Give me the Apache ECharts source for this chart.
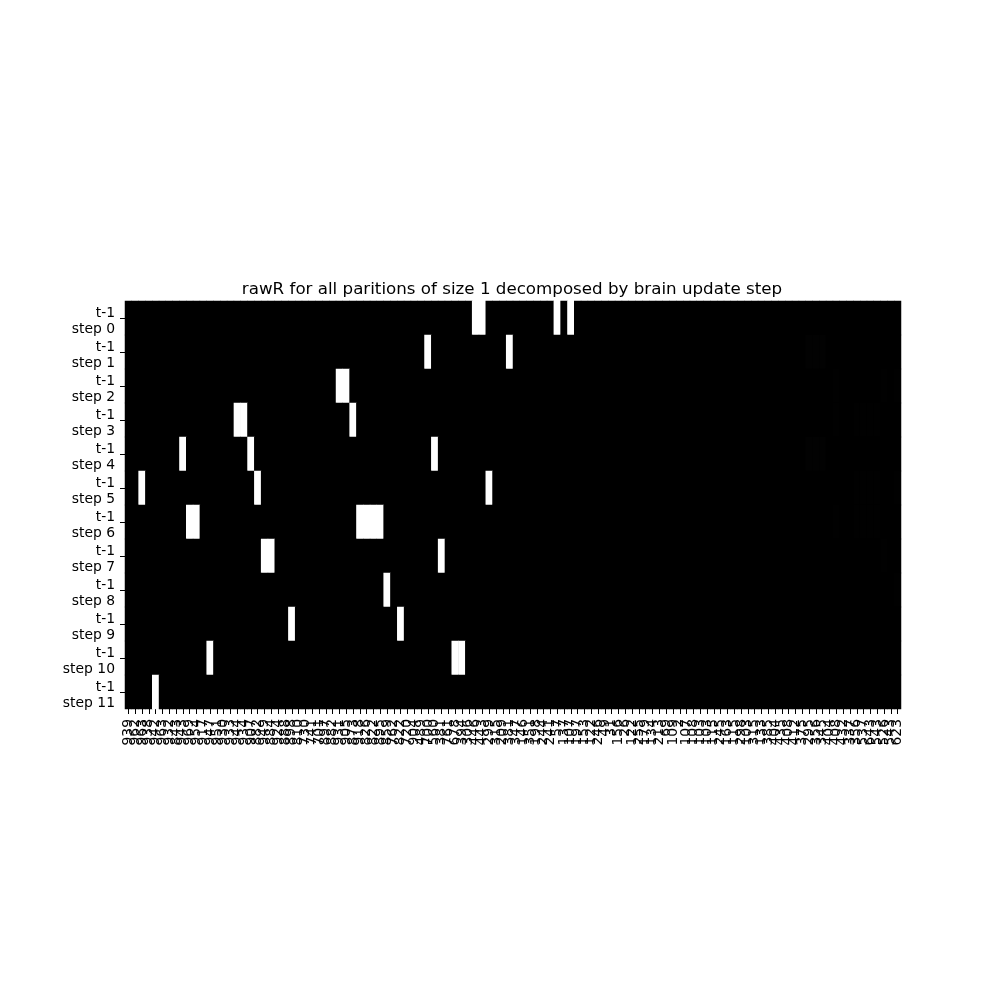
<!DOCTYPE html>
<html>
<head>
<meta charset="utf-8">
<script src="https://cdn.jsdelivr.net/npm/echarts@6/dist/echarts.min.js"></script>
<style>html,body{margin:0;padding:0;background:#fff;}#chart{width:1000px;height:1000px;}</style>
</head>
<body>
<div id="chart"></div>
<script>
// Column (partition) tick labels, left to right
const columnLabels = [
  939, 962, 963, 938, 942, 963, 932, 843, 943, 969, 954, 917, 947, 951, 930, 933, 944, 934, 907, 882,
  949, 884, 924, 888, 898, 810, 730, 741, 701, 897, 882, 931, 905, 873, 918, 826, 822, 895, 859, 762,
  822, 720, 904, 489, 700,
  560, 381, 761, 678, 394, 306, 446, 443, 299, 315, 209, 381, 347, 146, 351,
  198, 244, 241, 57, 137, 107, 197, 153, 122, 246, 49, 31, 156, 26, 122, 255, 179, 134, 213, 69,
  109, 2, 107, 108, 103, 103, 115, 245, 163, 115, 298, 103, 315, 133, 385,
  404, 435, 408, 412, 375, 295, 356, 345, 404, 408, 432, 337, 356, 537, 643, 543, 526, 543, 623
].map(String);

// Row tick labels
const stepLabels = ['t-1\nstep 0','t-1\nstep 1','t-1\nstep 2','t-1\nstep 3','t-1\nstep 4','t-1\nstep 5',
                    't-1\nstep 6','t-1\nstep 7','t-1\nstep 8','t-1\nstep 9','t-1\nstep 10','t-1\nstep 11'];

// Non-zero cells per step: [column index, value]
const step0  = [[51,1],[52,1],[63,1],[65,1]];
const step1  = [[44,1],[56,1],[100,0.006],[101,0.006],[102,0.006]];
const step2  = [[31,1],[32,1],[104,0.005],[111,0.005],[113,0.005]];
const step3  = [[16,1],[17,1],[33,1],[104,0.005],[107,0.005],[108,0.005],[109,0.005],[110,0.005]];
const step4  = [[8,1],[18,1],[45,1],[100,0.006],[101,0.006],[102,0.006]];
const step5  = [[2,1],[19,1],[53,1],[107,0.004],[108,0.004],[109,0.004],[110,0.004],[113,0.004]];
const step6  = [[9,1],[10,1],[34,1],[35,1],[36,1],[37,1],[104,0.004],[107,0.004],[108,0.004],[109,0.004],[110,0.004]];
const step7  = [[20,1],[21,1],[46,1],[111,0.004]];
const step8  = [[38,1],[113,0.004]];
const step9  = [[24,1],[40,1]];
const step10 = [[12,1],[48,1],[49,1]];
const step11 = [[4,1]];

const steps = [step0, step1, step2, step3, step4, step5, step6, step7, step8, step9, step10, step11];

const data = [];
steps.forEach((cells, row) => {
  const vals = new Array(columnLabels.length).fill(0);
  cells.forEach(([c, v]) => { vals[c] = v; });
  vals.forEach((v, c) => data.push([c, row, v]));
});

const FONT = 'DejaVu Sans';
const chart = echarts.init(document.getElementById('chart'), null, {renderer: 'canvas'});
chart.setOption({
  animation: false,
  backgroundColor: '#ffffff',
  title: {
    text: 'rawR for all paritions of size 1 decomposed by brain update step',
    left: 507, top: 276, textAlign: 'center',
    textStyle: {fontFamily: FONT, fontSize: 16.7, fontWeight: 'normal', color: '#000'}
  },
  grid: {left: 125, top: 301, width: 776, height: 408, containLabel: false,
         show: true, backgroundColor: '#000000', borderWidth: 0},
  xAxis: {
    type: 'category',
    data: columnLabels,
    splitArea: {show: false},
    axisLine: {show: false},
    axisTick: {show: true, alignWithLabel: true, interval: 0, length: 5, lineStyle: {color: '#000', width: 1}},
    axisLabel: {interval: 0, rotate: 90, margin: 10, fontFamily: FONT, fontSize: 13.9, color: '#000'}
  },
  yAxis: {
    type: 'category',
    data: stepLabels,
    inverse: true,
    splitArea: {show: false},
    axisLine: {show: false},
    axisTick: {show: true, alignWithLabel: true, interval: 0, length: 5, lineStyle: {color: '#000', width: 1}},
    axisLabel: {
      interval: 0, margin: 10, color: '#000', align: 'right',
      formatter: (v) => v.split('\n').map((s, i) => (i === 0 ? '{a|' : '{b|') + s + '}').join('\n'),
      rich: {
        a: {fontFamily: FONT, fontSize: 13.9, lineHeight: 16, color: '#000', padding: [6, 0, 0, 0], align: 'right'},
        b: {fontFamily: FONT, fontSize: 13.9, lineHeight: 16, color: '#000', padding: [6, 0, 0, 0], align: 'right'}
      }
    }
  },
  visualMap: {
    show: false, min: 0, max: 1, dimension: 2,
    inRange: {color: ['#000000', '#ffffff']}
  },
  series: [{
    type: 'heatmap',
    data: data,
    itemStyle: {borderWidth: 0},
    emphasis: {disabled: true}
  }]
});
</script>
</body>
</html>
